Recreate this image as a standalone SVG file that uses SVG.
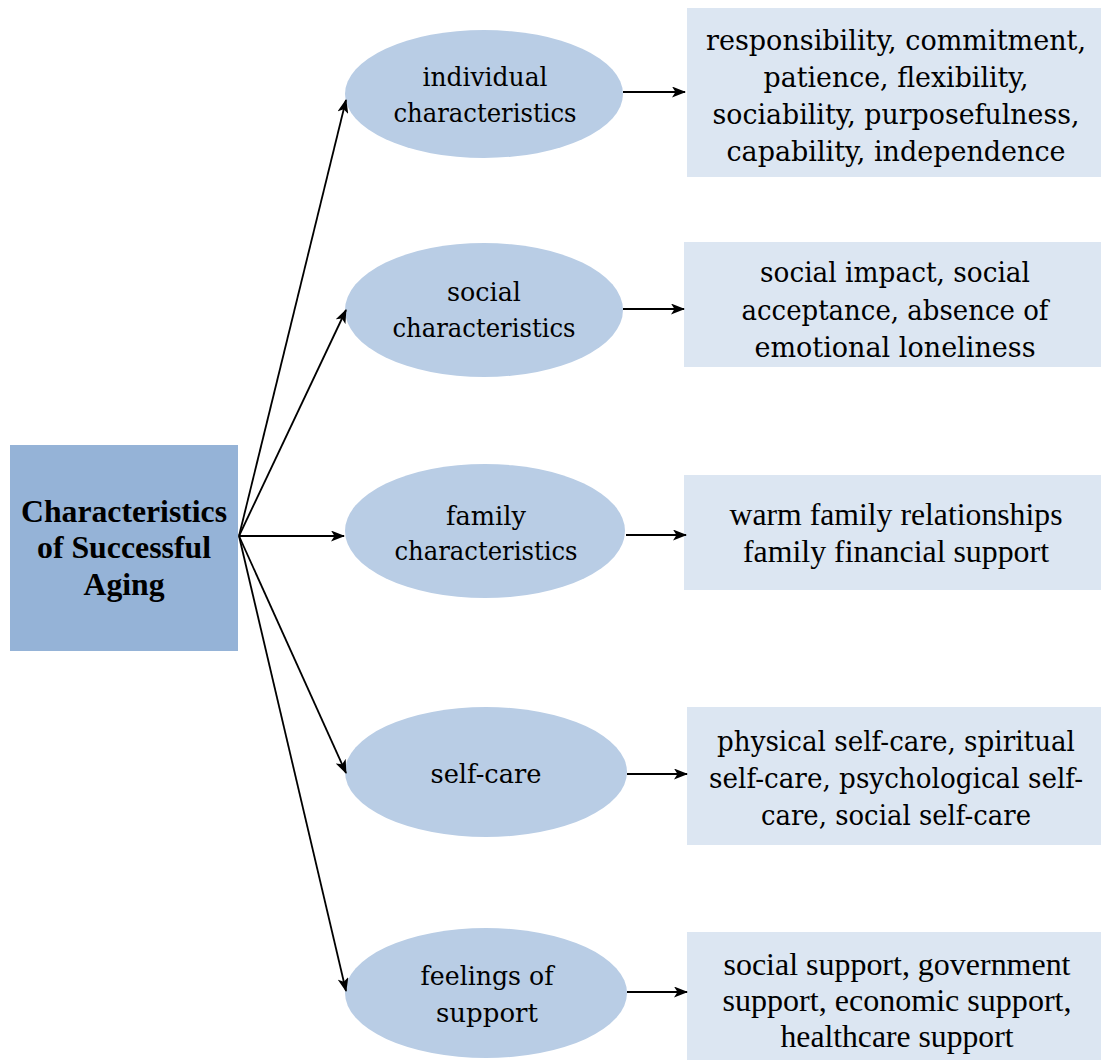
<svg xmlns="http://www.w3.org/2000/svg" width="1101" height="1060" viewBox="0 0 1101 1060">
<style>
.main{fill:#95b3d7}
.ell{fill:#b9cde5}
.box{fill:#dce6f2}
.tb{font-family:"Liberation Serif","Times New Roman",serif;font-weight:bold;font-size:32px;fill:#000;text-anchor:middle}
.te{font-family:"DejaVu Serif",serif;font-size:26px;fill:#000;text-anchor:middle}
.tc{font-family:"DejaVu Serif",serif;font-size:28px;fill:#000;text-anchor:middle}
.tc2{font-family:"DejaVu Serif",serif;font-size:27px;fill:#000;text-anchor:middle}
.tt{font-family:"Liberation Serif","Times New Roman",serif;font-size:32px;fill:#000;text-anchor:middle}
.con{stroke:#000;stroke-width:1.8;fill:none;marker-end:url(#ah)}
</style>
<defs>
<marker id="ah" markerWidth="14" markerHeight="11" refX="13" refY="5.5" orient="auto" markerUnits="userSpaceOnUse">
<path d="M0,0 L14,5.5 L0,11 L3.5,5.5 z" fill="#000"/>
</marker>
</defs>
<g id="root">
<rect class="main" x="10" y="445" width="228" height="206"/>
<text class="tb" x="124" y="522" textLength="206" lengthAdjust="spacingAndGlyphs">Characteristics</text>
<text class="tb" x="124" y="558" textLength="174" lengthAdjust="spacingAndGlyphs">of Successful</text>
<text class="tb" x="124" y="595" textLength="81" lengthAdjust="spacingAndGlyphs">Aging</text>
</g>
<g id="n-individual">
<ellipse class="ell" cx="484" cy="94" rx="139" ry="64"/>
<text class="te" x="485" y="86" textLength="125" lengthAdjust="spacingAndGlyphs">individual</text>
<text class="te" x="485" y="122" textLength="183" lengthAdjust="spacingAndGlyphs">characteristics</text>
</g>
<g id="n-social">
<ellipse class="ell" cx="484" cy="310" rx="139" ry="67"/>
<text class="te" x="484" y="301" textLength="74" lengthAdjust="spacingAndGlyphs">social</text>
<text class="te" x="484" y="337" textLength="183" lengthAdjust="spacingAndGlyphs">characteristics</text>
</g>
<g id="n-family">
<ellipse class="ell" cx="485" cy="531" rx="140" ry="67"/>
<text class="te" x="486" y="525" textLength="80" lengthAdjust="spacingAndGlyphs">family</text>
<text class="te" x="486" y="560" textLength="183" lengthAdjust="spacingAndGlyphs">characteristics</text>
</g>
<g id="n-selfcare">
<ellipse class="ell" cx="486" cy="772" rx="141" ry="65"/>
<text class="te" x="486" y="783" textLength="111" lengthAdjust="spacingAndGlyphs">self-care</text>
</g>
<g id="n-support">
<ellipse class="ell" cx="486" cy="993" rx="141" ry="65"/>
<text class="te" x="487" y="985" textLength="133" lengthAdjust="spacingAndGlyphs">feelings of</text>
<text class="te" x="487" y="1022" textLength="102" lengthAdjust="spacingAndGlyphs">support</text>
</g>
<g id="d-individual">
<rect class="box" x="687" y="8" width="414" height="169"/>
<text class="tc" x="896" y="50" textLength="380" lengthAdjust="spacingAndGlyphs">responsibility, commitment,</text>
<text class="tc" x="896" y="87" textLength="265" lengthAdjust="spacingAndGlyphs">patience, flexibility,</text>
<text class="tc" x="896" y="124" textLength="367" lengthAdjust="spacingAndGlyphs">sociability, purposefulness,</text>
<text class="tc" x="896" y="161" textLength="339" lengthAdjust="spacingAndGlyphs">capability, independence</text>
</g>
<g id="d-social">
<rect class="box" x="684" y="242" width="417" height="125"/>
<text class="tc" x="895" y="282" textLength="270" lengthAdjust="spacingAndGlyphs">social impact, social</text>
<text class="tc" x="895" y="320" textLength="307" lengthAdjust="spacingAndGlyphs">acceptance, absence of</text>
<text class="tc" x="895" y="357" textLength="281" lengthAdjust="spacingAndGlyphs">emotional loneliness</text>
</g>
<g id="d-family">
<rect class="box" x="684" y="475" width="417" height="115"/>
<text class="tt" x="896" y="525" textLength="333" lengthAdjust="spacingAndGlyphs">warm family relationships</text>
<text class="tt" x="896" y="562" textLength="306" lengthAdjust="spacingAndGlyphs">family financial support</text>
</g>
<g id="d-selfcare">
<rect class="box" x="687" y="707" width="414" height="138"/>
<text class="tc2" x="896" y="751" textLength="358" lengthAdjust="spacingAndGlyphs">physical self-care, spiritual</text>
<text class="tc2" x="896" y="788" textLength="374" lengthAdjust="spacingAndGlyphs">self-care, psychological self-</text>
<text class="tc2" x="896" y="825" textLength="270" lengthAdjust="spacingAndGlyphs">care, social self-care</text>
</g>
<g id="d-support">
<rect class="box" x="687" y="932" width="414" height="128"/>
<text class="tt" x="897" y="975" textLength="347" lengthAdjust="spacingAndGlyphs">social support, government</text>
<text class="tt" x="897" y="1011" textLength="349" lengthAdjust="spacingAndGlyphs">support, economic support,</text>
<text class="tt" x="897" y="1047" textLength="233" lengthAdjust="spacingAndGlyphs">healthcare support</text>
</g>
<g id="connectors">
<line class="con" x1="239" y1="536" x2="346" y2="100"/>
<line class="con" x1="239" y1="536" x2="346" y2="310"/>
<line class="con" x1="239" y1="536" x2="344" y2="536"/>
<line class="con" x1="239" y1="536" x2="346" y2="773"/>
<line class="con" x1="239" y1="536" x2="346" y2="991"/>
<line class="con" x1="623" y1="92" x2="685" y2="92"/>
<line class="con" x1="623" y1="309" x2="684" y2="309"/>
<line class="con" x1="626" y1="535" x2="686" y2="535"/>
<line class="con" x1="627" y1="774" x2="687" y2="774"/>
<line class="con" x1="627" y1="992" x2="687" y2="992"/>
</g>
</svg>
